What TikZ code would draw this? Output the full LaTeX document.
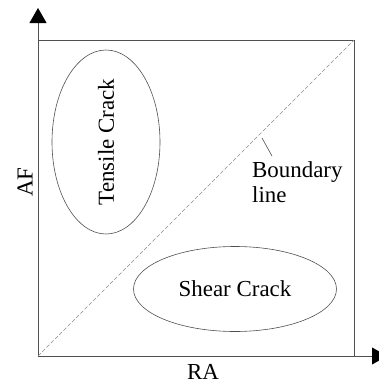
\documentclass[tikz,border=0pt]{standalone}
\usepackage{fontspec}
\setmainfont{Liberation Serif}
\usetikzlibrary{shapes.geometric,arrows.meta,positioning}
\definecolor{axisgray}{RGB}{80,80,80}
\definecolor{dashgray}{RGB}{140,140,140}

\begin{document}
\begin{tikzpicture}[x=1bp, y=-1bp, font=\fontsize{23}{25}\selectfont,
    axis/.style={draw=axisgray, line width=0.8bp, -{Triangle[length=15bp,width=17bp,color=black]}},
    frame/.style={draw=axisgray, line width=0.8bp},
    region/.style={draw=axisgray, line width=0.6bp, ellipse, inner sep=0pt}]
    \useasboundingbox (0,0) rectangle (379,383);
    % axes and frame
    \coordinate (o) at (38,356);
    \coordinate (xend) at (387,356);
    \coordinate (yend) at (38,8);
    \coordinate (corner) at (354,40);
    \draw[axis] (o) -- (xend);
    \draw[axis] (o) -- (yend);
    \draw[frame] (38,40) -- (corner) -- (354,356);
    % boundary line
    \draw[dashgray, line width=0.6bp, dash pattern=on 4bp off 2bp] (o) -- (corner);
    % regions
    \node[region, rotate=90, minimum width=184bp, minimum height=108bp] (tensile) at (106,142) {Tensile Crack};
    \node[region, minimum width=203bp, minimum height=85bp] (shear) at (235,289) {Shear Crack};
    % label of the boundary line
    \node[anchor=north west, align=left, inner sep=0pt] (bndlabel) at (252,161) {Boundary\\line};
    \coordinate (bndpt) at (262,138);
    \coordinate (bndtip) at (272,156);
    \draw[axisgray, line width=0.6bp] (bndpt) -- (bndtip);
    % axis labels
    \node[rotate=90] (af) at (25,182) {AF};
    \node (ra) at (203,372) {RA};
\end{tikzpicture}
\end{document}
